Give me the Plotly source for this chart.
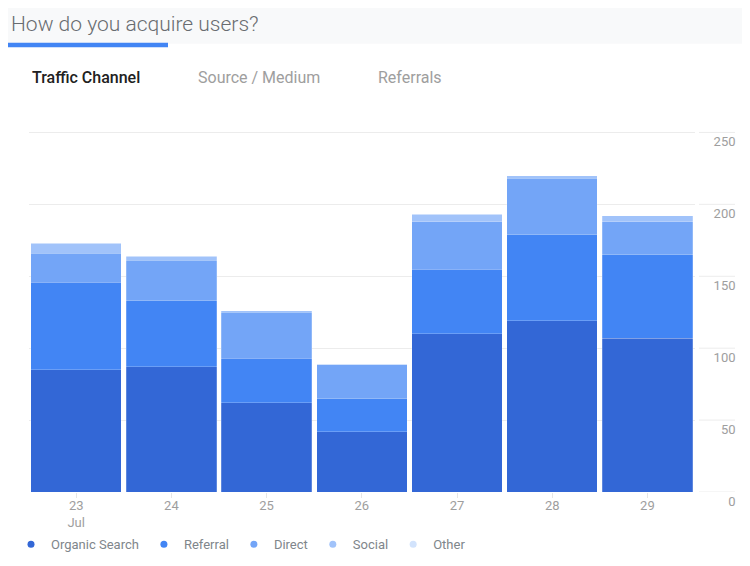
import plotly.graph_objects as go

# data
days = ["23<br>Jul", "24", "25", "26", "27", "28", "29"]
organic_search = [85, 87, 62, 42, 110, 119, 107]
referral = [61, 46, 31, 23, 45, 60, 58]
direct = [20, 28, 32, 24, 33, 39, 23]
social = [7, 3, 1, 0, 5, 2, 4]
other = [0, 0, 0, 0, 0, 0, 0]
y_ticks = [0, 50, 100, 150, 200, 250]
tabs = ["Traffic Channel", "Source / Medium", "Referrals"]

# page body has an 8px margin, so the figure is drawn 8px in and 8px down
OFF = 8
W, H = 750 - OFF, 566 - OFF
Y_MAX = 251
BASE = 492.5                      # pixel row of the 0 line (reference coords)
TOP = BASE - (BASE - 132) * Y_MAX / 250   # 250 line sits at row 132


def px(x):
    return (x - OFF) / W


def py(y):
    return (BASE - y) / (BASE - TOP)


series = [
    ("Organic Search", organic_search, "#3367d6"),
    ("Referral", referral, "#4285f4"),
    ("Direct", direct, "#73a5f7"),
    ("Social", social, "#a1c3fa"),
    ("Other", other, "#d2e3fc"),
]

fig = go.Figure()
for name, vals, color in series:
    fig.add_trace(go.Bar(
        x=days, y=vals, name=name, showlegend=False,
        marker=dict(color=color, line=dict(width=0.6, color="rgba(255,255,255,0.35)")),
        hoverinfo="y+name",
    ))
# round dots for the legend
for name, vals, color in series:
    fig.add_trace(go.Scatter(
        x=[None], y=[None], mode="markers", name=name,
        marker=dict(color=color, size=7, symbol="circle"),
    ))

shapes = [
    # grey header strip
    dict(type="rect", xref="paper", yref="paper", x0=px(0), x1=px(760), y0=py(43), y1=py(0),
         fillcolor="#f8f9fa", line=dict(width=0), layer="below"),
    # active tab underline
    dict(type="rect", xref="paper", yref="paper", x0=px(0), x1=px(168), y0=py(46.5), y1=py(42),
         fillcolor="#4285f4", line=dict(width=0)),
]
# short gridline pieces under the axis labels
for t in y_ticks:
    shapes.append(dict(type="line", xref="paper", yref="y", x0=px(699), x1=px(735), y0=t, y1=t,
                       line=dict(color="#ececec", width=1), layer="below"))

annotations = [
    dict(text="How do you acquire users?", xref="paper", yref="paper", x=px(8.5), y=py(9),
         xanchor="left", yanchor="top", showarrow=False,
         font=dict(size=21, color="#686c70", family="Roboto", weight=300)),
]
tab_x = [30, 196, 376]
for i, (label, x) in enumerate(zip(tabs, tab_x)):
    annotations.append(dict(
        text=label, xref="paper", yref="paper", x=px(x), y=py(77),
        xanchor="left", yanchor="middle", showarrow=False,
        font=dict(size=16, family="Roboto",
                  color="#212121" if i == 0 else "#9e9e9e",
                  weight=500 if i == 0 else 400),
    ))

fig.update_layout(
    width=W, height=H,
    margin=dict(l=0, r=0, t=TOP - OFF, b=566 - BASE),
    paper_bgcolor="white", plot_bgcolor="white",
    barmode="stack", bargap=0.05,
    font=dict(family="Roboto", color="#9e9e9e"),
    xaxis=dict(
        domain=[px(28.6), px(695)],
        showgrid=False, showline=False, zeroline=False,
        ticks="outside", ticklen=5, tickcolor="#e6e6e6",
        ticklabelstandoff=-4,
        tickfont=dict(size=13, color="#9e9e9e"),
        fixedrange=True,
    ),
    yaxis=dict(
        range=[0, Y_MAX], tickvals=y_ticks,
        anchor="free", position=px(735.5), side="left",
        showgrid=True, gridcolor="#ececec", gridwidth=1,
        zeroline=False, showline=False, ticks="",
        ticklabelshift=9,
        tickfont=dict(size=13, color="#9e9e9e"),
        fixedrange=True,
    ),
    legend=dict(
        orientation="h", x=px(11), y=py(545), xanchor="left", yanchor="middle",
        traceorder="normal", bgcolor="rgba(0,0,0,0)",
        font=dict(size=13, color="#80868b", family="Roboto"),
        itemwidth=30, tracegroupgap=0, itemclick=False,
    ),
    shapes=shapes,
    annotations=annotations,
    showlegend=True,
)

fig.write_html("out.html")
